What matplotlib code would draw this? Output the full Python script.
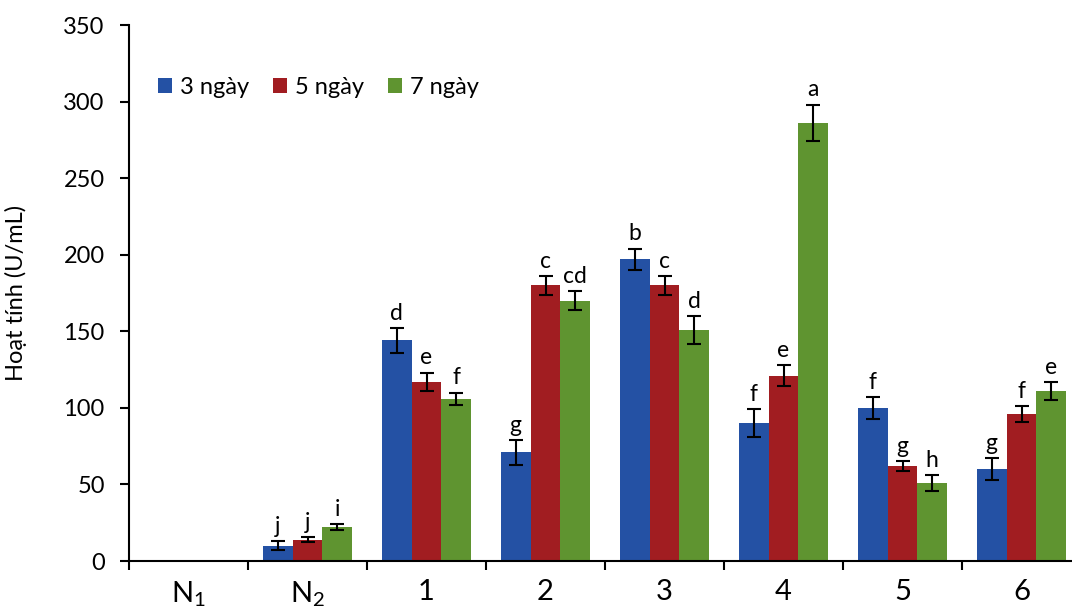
import matplotlib
matplotlib.use("Agg")
import matplotlib.pyplot as plt
import numpy as np

plt.rcParams["font.family"] = ["Lato", "DejaVu Sans"]
plt.rcParams["mathtext.default"] = "regular"

groups = ["N$_1$", "N$_2$", "1", "2", "3", "4", "5", "6"]
series = ["3 ngày", "5 ngày", "7 ngày"]
colors = ["#2451a4", "#a11d21", "#5f9430"]

day3 = [0, 10, 144, 71, 197, 90, 100, 60]
day5 = [0, 14, 117, 180, 180, 121, 62, 96]
day7 = [0, 22, 106, 170, 151, 286, 51, 111]
err3 = [0, 3, 8, 8, 7, 9, 7, 7]
err5 = [0, 1.5, 6, 6, 6, 7, 3, 5]
err7 = [0, 2, 4, 6, 9, 12, 5, 6]
let3 = ["", "j", "d", "g", "b", "f", "f", "g"]
let5 = ["", "j", "e", "c", "c", "e", "g", "f"]
let7 = ["", "i", "f", "cd", "d", "a", "h", "e"]

values = [day3, day5, day7]
errors = [err3, err5, err7]
letters = [let3, let5, let7]

fig = plt.figure(figsize=(10.72, 6.12), dpi=100)
ax = fig.add_axes([129 / 1072, 51 / 612, 952 / 1072, 536 / 612])

x = np.arange(len(groups))
w = 0.25
for k in range(3):
    xs = x + (k - 1) * w
    ax.bar(xs, values[k], w, color=colors[k], label=series[k])
    for xi, v, e, lab in zip(xs, values[k], errors[k], letters[k]):
        if v == 0:
            continue
        ax.errorbar(xi, v, yerr=e, color="black", capsize=5, capthick=1.5,
                    elinewidth=1.5, fmt="none")
        ax.annotate(lab, (xi, v + e), xytext=(0, 3), textcoords="offset points",
                    ha="center", va="bottom", fontsize=16.5)

ax.set_xlim(-0.5, 7.5)
ax.set_ylim(0, 350)
ax.set_yticks(range(0, 351, 50))
ax.set_xticks(np.arange(-0.5, 8, 1))
ax.set_xticklabels([])
ax.set_xticks(x, minor=True)
ax.set_xticklabels(groups, minor=True, fontsize=21)
ax.tick_params(axis="x", which="major", direction="out", length=6.5, width=1.5)
ax.tick_params(axis="x", which="minor", length=0, pad=13)
ax.tick_params(axis="y", direction="out", length=6.5, width=1.5, labelsize=17, pad=11)
for s in ["top", "right"]:
    ax.spines[s].set_visible(False)
for s in ["left", "bottom"]:
    ax.spines[s].set_linewidth(1.5)

ax.set_ylabel("Hoạt tính (U/mL)", fontsize=17)
ax.yaxis.set_label_coords(-0.107, 0.5)
ax.legend(loc="center left", bbox_to_anchor=(0.03, 0.884), ncol=3, frameon=False,
          fontsize=17, handlelength=0.6, handleheight=0.6, handletextpad=0.35,
          columnspacing=1.0, borderpad=0, borderaxespad=0)

fig.savefig("out.png", dpi=100)
